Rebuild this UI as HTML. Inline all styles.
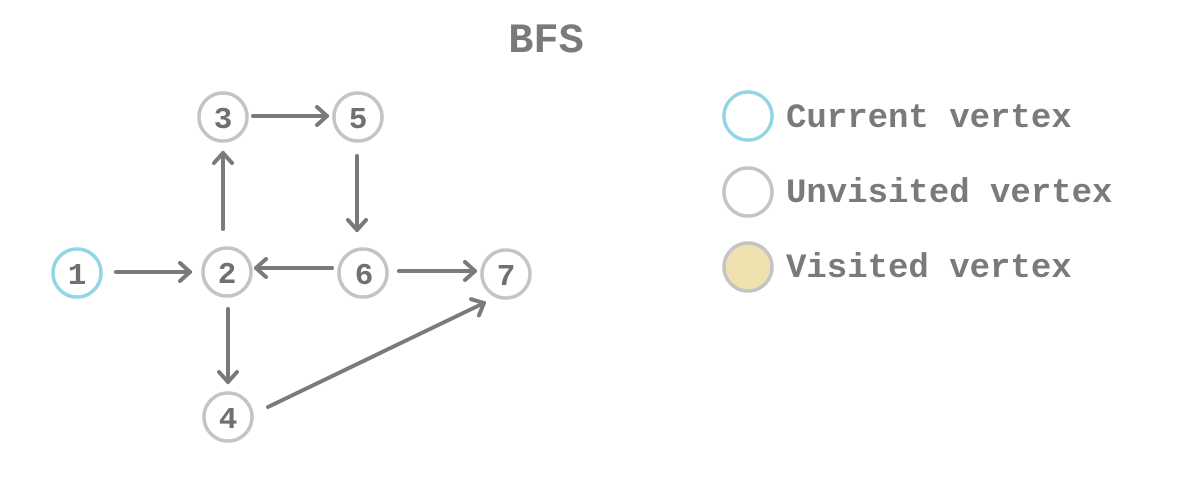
<!DOCTYPE html>
<html><head><style>
html,body{margin:0;padding:0;background:#fff;width:1200px;height:487px;overflow:hidden}
</style></head><body>
<svg width="1200" height="487" xmlns="http://www.w3.org/2000/svg">
<defs>
<marker id="a" markerWidth="16" markerHeight="22" refX="12" refY="11" orient="auto" markerUnits="userSpaceOnUse">
<path d="M2,2 L12,11 L2,20" fill="none" stroke="#7a7a7a" stroke-width="4" stroke-linecap="round" stroke-linejoin="round"/>
</marker>
</defs>
<text x="546" y="52" font-family="Liberation Mono, monospace" font-weight="bold" font-size="42" fill="#7a7a7a" text-anchor="middle">BFS</text>
<g stroke="#7a7a7a" stroke-width="4" fill="none" marker-end="url(#a)" stroke-linecap="round">
<line x1="116" y1="272" x2="190" y2="272"/>
<line x1="253" y1="116" x2="327" y2="116"/>
<line x1="357" y1="156" x2="357" y2="230"/>
<line x1="223" y1="229" x2="223" y2="153"/>
<line x1="332" y1="268" x2="256" y2="268"/>
<line x1="399" y1="271" x2="475" y2="271"/>
<line x1="228" y1="309" x2="228" y2="382"/>
<line x1="268" y1="407" x2="484" y2="303"/>
</g>
<g fill="#fff" stroke="#c4c4c4" stroke-width="3.5">
<circle cx="77" cy="273" r="24" stroke="#92d5e6"/>
<circle cx="227" cy="272" r="24"/>
<circle cx="223" cy="117" r="24"/>
<circle cx="358" cy="117" r="24"/>
<circle cx="363" cy="273" r="24"/>
<circle cx="506" cy="274" r="24"/>
<circle cx="228" cy="417" r="24"/>
<circle cx="748" cy="116" r="24" stroke="#92d5e6"/>
<circle cx="748" cy="192" r="24"/>
<circle cx="748" cy="267" r="24" fill="#efe2b0"/>
</g>
<g font-family="Liberation Mono, monospace" font-weight="bold" font-size="31" fill="#707070" text-anchor="middle">
<text x="77" y="284">1</text>
<text x="227" y="283">2</text>
<text x="223" y="128">3</text>
<text x="358" y="128">5</text>
<text x="364" y="284">6</text>
<text x="506" y="285">7</text>
<text x="228" y="428">4</text>
</g>
<g font-family="Liberation Mono, monospace" font-weight="bold" font-size="34" fill="#7a7a7a">
<text x="786" y="127">Current vertex</text>
<text x="786" y="202">Unvisited vertex</text>
<text x="786" y="277">Visited vertex</text>
</g>
</svg>
</body></html>
